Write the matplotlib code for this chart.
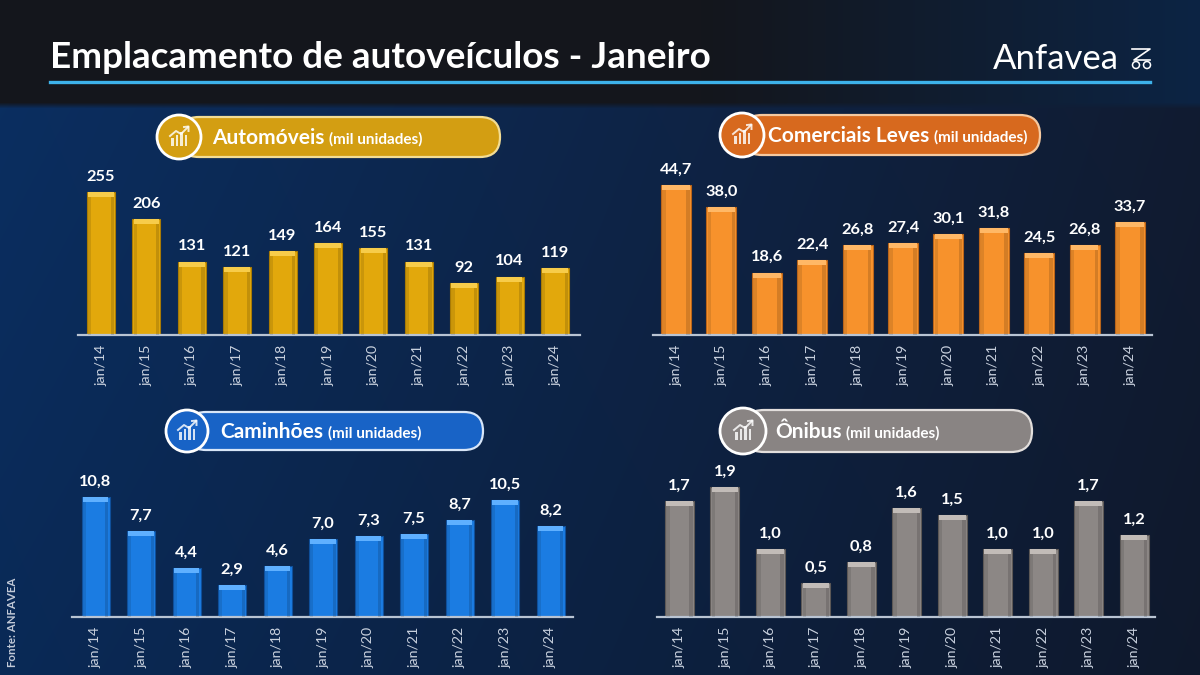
import numpy as np
import matplotlib
matplotlib.use("Agg")
import matplotlib.pyplot as plt
from matplotlib.patches import FancyBboxPatch, Circle, Rectangle
from matplotlib.lines import Line2D

# ---------------- data ----------------
periods = ["jan/14", "jan/15", "jan/16", "jan/17", "jan/18", "jan/19",
           "jan/20", "jan/21", "jan/22", "jan/23", "jan/24"]
automoveis = [255, 206, 131, 121, 149, 164, 155, 131, 92, 104, 119]
comerciais_leves = [44.7, 38.0, 18.6, 22.4, 26.8, 27.4, 30.1, 31.8, 24.5, 26.8, 33.7]
caminhoes = [10.8, 7.7, 4.4, 2.9, 4.6, 7.0, 7.3, 7.5, 8.7, 10.5, 8.2]
onibus = [1.7, 1.9, 1.0, 0.5, 0.8, 1.6, 1.5, 1.0, 1.0, 1.7, 1.2]

title = "Emplacamento de autoveículos - Janeiro"
panel_titles = ["Automóveis", "Comerciais Leves", "Caminhões", "Ônibus"]
unit_label = "(mil unidades)"
source = "Fonte: ANFAVEA"
logo_text = "Anfavea"

W, H = 1200, 675
FONT = "Lato"
plt.rcParams["font.family"] = [FONT, "DejaVu Sans"]

fig = plt.figure(figsize=(W / 100, H / 100), dpi=100)

# ---------------- background ----------------
bg = fig.add_axes([0, 0, 1, 1], zorder=-10)
yy, xx = np.mgrid[0:H, 0:W]
t = xx / W
v = yy / H
body_l = np.array([11, 47, 98]) / 255
body_r = np.array([17, 28, 50]) / 255
img = body_l[None, None, :] * (1 - t[..., None]) + body_r[None, None, :] * t[..., None]
img = img * (1 - 0.12 * v[..., None])
head_l = np.array([20, 22, 28]) / 255
head_r = np.array([12, 36, 68]) / 255
th = np.clip((xx - 700) / 500, 0, 1)
head = head_l[None, None, :] * (1 - th[..., None]) + head_r[None, None, :] * th[..., None]
mask = np.clip((108 - yy) / 6, 0, 1)[..., None]
img = head * mask + img * (1 - mask)
bg.imshow(img, extent=[0, W, H, 0], aspect="auto", interpolation="bilinear")
bg.set_xlim(0, W)
bg.set_ylim(H, 0)
bg.axis("off")

# overlay axes in pixel coordinates
ov = fig.add_axes([0, 0, 1, 1], zorder=5)
ov.set_xlim(0, W)
ov.set_ylim(H, 0)
ov.axis("off")
ov.patch.set_alpha(0)

fig.canvas.draw()
r = fig.canvas.get_renderer()


def fit_width(txt, base_size, target_px):
    w = txt.get_window_extent(r).width
    txt.set_fontsize(base_size * target_px / w)


# ---------------- header ----------------
tt = ov.text(50, 58, title, color="white", fontsize=24, fontweight="bold",
             ha="left", va="center", family=[FONT, "DejaVu Sans"])
fit_width(tt, 24, 663)
ov.add_line(Line2D([50, 1150], [82, 82], color="#3db2ea", lw=2.4))

lg = ov.text(993, 59, logo_text, color="white", fontsize=20, fontweight="normal",
             ha="left", va="center", family=[FONT, "DejaVu Sans"])
fit_width(lg, 20, 126)
# small logo symbol
ov.add_line(Line2D([1132, 1150, 1134, 1150], [49, 49, 60, 60], color="white", lw=1.2))
ov.add_patch(Circle((1136, 65), 3.5, fill=False, ec="white", lw=1.1))
ov.add_patch(Circle((1147, 65), 3.5, fill=False, ec="white", lw=1.1))

# ---------------- panels ----------------
panels = [
    dict(vals=automoveis, name=panel_titles[0], bar="#e2a80c", cap="#f7cc4a", edge="#a87a05",
         pill="#d39e12", pill_edge="#f3dd94",
         x0=78, x1=580, base=335, top=150, c0=101, sp=45.4, bw=28, ref=(255, 192),
         pill_box=(157, 117, 500, 157), circ=(179, 137), txt_x=212, fmt="int"),
    dict(vals=comerciais_leves, name=panel_titles[1], bar="#f7922c", cap="#ffb866", edge="#b8641a",
         pill="#d7691e", pill_edge="#f5c9a0",
         x0=653, x1=1152, base=335, top=150, c0=676, sp=45.4, bw=30, ref=(44.7, 185),
         pill_box=(718, 115, 1040, 155), circ=(742, 135), txt_x=768, fmt="dec"),
    dict(vals=caminhoes, name=panel_titles[2], bar="#1b7ce2", cap="#5fb0ff", edge="#0f4f9a",
         pill="#1863c6", pill_edge="#d8e6f8",
         x0=72, x1=573, base=617, top=440, c0=95.5, sp=45.5, bw=28, ref=(10.8, 497),
         pill_box=(165, 412, 483, 450), circ=(187, 431), txt_x=220, fmt="dec"),
    dict(vals=onibus, name=panel_titles[3], bar="#8c8785", cap="#c2bcb8", edge="#5c5856",
         pill="#898483", pill_edge="#e2dedc",
         x0=657, x1=1155, base=617, top=440, c0=679.5, sp=45.45, bw=29, ref=(1.7, 501),
         pill_box=(720, 410, 1032, 452), circ=(743, 431), txt_x=775, fmt="dec"),
]

for p in panels:
    x0, x1, base, top = p["x0"], p["x1"], p["base"], p["top"]
    ax = fig.add_axes([x0 / W, 1 - base / H, (x1 - x0) / W, (base - top) / H], zorder=3)
    ax.patch.set_alpha(0)
    ppu = (base - p["ref"][1]) / p["ref"][0]
    sp = p["sp"]
    ax.set_xlim((x0 - p["c0"]) / sp, (x1 - p["c0"]) / sp)
    ax.set_ylim(0, (base - top) / ppu)
    xs = np.arange(len(periods))
    vals = np.array(p["vals"], dtype=float)
    bw = p["bw"] / sp
    ax.bar(xs, vals, width=bw, color=p["bar"], edgecolor=p["edge"], linewidth=0.8, zorder=2)
    # subtle side shading for a bevel look
    ax.bar(xs - bw * 0.40, vals, width=bw * 0.12, color="black", alpha=0.10, linewidth=0, zorder=3)
    ax.bar(xs + bw * 0.40, vals, width=bw * 0.12, color="black", alpha=0.14, linewidth=0, zorder=3)
    cap = 5 / ppu
    ax.bar(xs, np.full_like(vals, cap), bottom=vals - cap, width=bw * 0.92,
           color=p["cap"], linewidth=0, zorder=4)
    for xi, vi in zip(xs, vals):
        lbl = f"{int(round(vi))}" if p["fmt"] == "int" else f"{vi:.1f}".replace(".", ",")
        ax.annotate(lbl, (xi, vi), xytext=(0, 6), textcoords="offset points",
                    ha="center", va="bottom", color="white", fontsize=11.8,
                    fontweight="bold", family=[FONT, "DejaVu Sans"])
    ax.set_xticks(xs)
    ax.set_xticklabels(periods, rotation=90, color="#c9d1de", fontsize=10.2,
                       family=[FONT, "DejaVu Sans"])
    ax.tick_params(axis="x", length=0, pad=7)
    ax.set_yticks([])
    for s in ["top", "left", "right"]:
        ax.spines[s].set_visible(False)
    ax.spines["bottom"].set_color("#b9c4d3")
    ax.spines["bottom"].set_linewidth(1.6)

    # pill header
    bx0, by0, bx1, by1 = p["pill_box"]
    hgt = by1 - by0
    cx, cy = p["circ"]
    ov.add_patch(FancyBboxPatch((cx, by0), bx1 - cx, hgt,
                                boxstyle=f"round,pad=0,rounding_size={hgt/2}",
                                fc=p["pill"], ec=p["pill_edge"], lw=1.6, zorder=2))
    rad = hgt / 2 + 2
    ov.add_patch(Circle((cx, cy), rad, fc=p["pill"], ec="white", lw=2.0, zorder=3))
    # icon: ascending bars with arrow
    icol = (1, 1, 1, 0.82)
    bwid = 2.6
    for k, hh in enumerate([8, 11, 14, 11]):
        bxk = cx - 8 + k * 4.6
        ov.add_patch(Rectangle((bxk, cy + 9 - hh), bwid, hh, fc=icol, ec="none", zorder=4))
    ov.add_line(Line2D([cx - 9, cx - 3, cx + 2, cx + 9], [cy - 1, cy - 6, cy - 3, cy - 10],
                       color=icol, lw=1.4, zorder=4))
    ov.add_line(Line2D([cx + 5, cx + 9.5, cx + 9.5], [cy - 10, cy - 10.5, cy - 6],
                       color=icol, lw=1.4, zorder=4))
    t1 = ov.text(p["txt_x"], cy + 1, p["name"], color="white", fontsize=15,
                 fontweight="bold", ha="left", va="center", zorder=5,
                 family=[FONT, "DejaVu Sans"])
    ext = t1.get_window_extent(r)
    ov.text(p["txt_x"] + ext.width + 5, cy + 2, unit_label, color="white",
            fontsize=11, fontweight="bold", ha="left", va="center", zorder=5,
            family=[FONT, "DejaVu Sans"])

src = ov.text(13, 622, source, color="#c3cad8", fontsize=9, fontweight="bold",
              rotation=90, ha="center", va="center", family=[FONT, "DejaVu Sans"])
h_src = src.get_window_extent(r).height
src.set_fontsize(9 * 90 / h_src)

fig.savefig("out.png", dpi=100)
